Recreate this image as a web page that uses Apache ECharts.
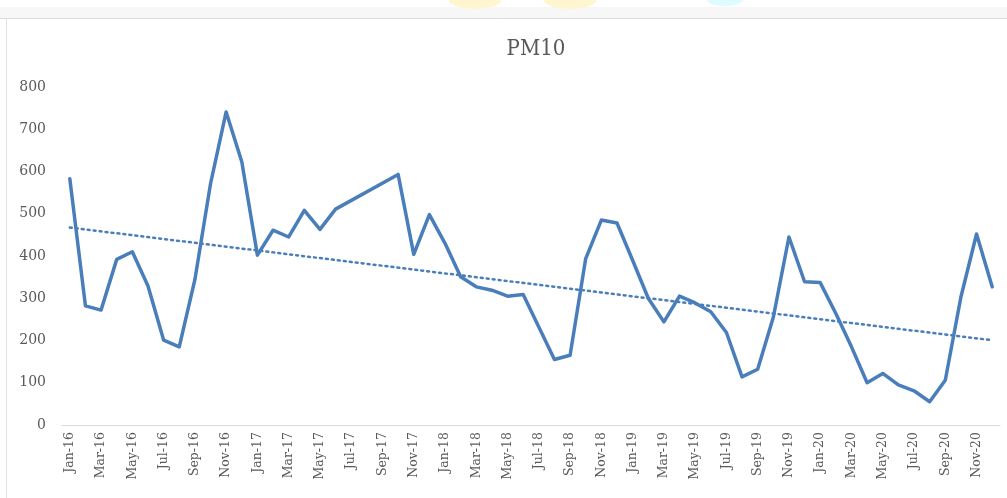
<!DOCTYPE html>
<html><head><meta charset="utf-8">
<script src="https://cdn.jsdelivr.net/npm/echarts@6/dist/echarts.min.js"></script>
<style>html,body{margin:0;padding:0;background:#fff}#c{width:1007px;height:498px}</style>
</head><body><div id="c"></div>
<script>
const monthNames = ['Jan','Feb','Mar','Apr','May','Jun','Jul','Aug','Sep','Oct','Nov','Dec'];
const years = ['16','17','18','19','20'];
const categories = [];
years.forEach(y => monthNames.forEach(m => categories.push(m + '-' + y)));
// Jul-17 .. Sep-17 appear to be missing (line drawn straight across them)
const pm10 = [
  583, 282, 272, 392, 410, 329, 201, 185, 344, 571, 741, 623,
  402, 461, 445, 508, 463, 511, null, null, null, 593, 404, 498,
  430, 351, 327, 319, 305, 309, 232, 155, 165, 394, 485, 478,
  390, 300, 244, 305, 289, 268, 219, 114, 132, 255, 445, 339,
  337, 264, 185, 100, 122, 95, 81, 55, 106, 303, 452, 327
];
const yTicks = [0, 800, 100];
const titleText = 'PM10';

// linear trendline (least squares) over the available data points
let n = 0, sx = 0, sy = 0, sxx = 0, sxy = 0;
pm10.forEach((v, i) => { if (v == null) return; n++; sx += i; sy += v; sxx += i * i; sxy += i * v; });
const slope = (n * sxy - sx * sy) / (n * sxx - sx * sx);
const icpt = (sy - slope * sx) / n;
const trend = pm10.map((v, i) => +(icpt + slope * i).toFixed(2));

const chart = echarts.init(document.getElementById('c'));
const labelColor = '#595959';
chart.setOption({
  animation: false,
  backgroundColor: '#ffffff',
  graphic: [
    { type: 'rect', shape: { x: 0, y: 7, width: 1007, height: 11 }, style: { fill: '#f7f7f7' }, silent: true },
    { type: 'ellipse', shape: { cx: 475, cy: 0, rx: 26, ry: 9 }, style: { fill: '#fff6cf' }, silent: true },
    { type: 'ellipse', shape: { cx: 570, cy: 0, rx: 26, ry: 9 }, style: { fill: '#fff6cf' }, silent: true },
    { type: 'ellipse', shape: { cx: 725, cy: 0, rx: 18, ry: 6 }, style: { fill: '#dffbff' }, silent: true },
    { type: 'line', shape: { x1: 0, y1: 18.5, x2: 1007, y2: 18.5 }, style: { stroke: '#dcdcdc', lineWidth: 1 }, silent: true },
    { type: 'line', shape: { x1: 6.5, y1: 18.5, x2: 6.5, y2: 498 }, style: { stroke: '#e3e3e3', lineWidth: 1 }, silent: true }
  ],
  title: {
    text: titleText,
    left: 531, top: 33, textAlign: 'center',
    textStyle: { fontFamily: 'DejaVu Serif Condensed, DejaVu Serif', fontSize: 22, fontWeight: 'normal', color: '#595959' }
  },
  grid: { left: 62, right: 7, top: 87, bottom: 73, containLabel: false },
  xAxis: {
    type: 'category',
    data: categories,
    boundaryGap: true,
    axisLine: { lineStyle: { color: '#d9d9d9', width: 1 } },
    axisTick: { interval: 1, length: 5, lineStyle: { color: '#d9d9d9' } },
    axisLabel: {
      interval: 1, rotate: 90, margin: 7,
      fontFamily: 'DejaVu Serif', fontSize: 12.5, color: labelColor
    },
    splitLine: { show: false }
  },
  yAxis: {
    type: 'value',
    min: yTicks[0], max: yTicks[1], interval: yTicks[2],
    axisLine: { show: false }, axisTick: { show: false },
    splitLine: { show: false },
    axisLabel: { margin: 16, fontFamily: 'DejaVu Serif', fontSize: 14, color: labelColor }
  },
  series: [
    {
      name: 'PM10', type: 'line', data: pm10,
      symbol: 'none', connectNulls: true,
      lineStyle: { color: '#4a7ebb', width: 3.5, join: 'round', cap: 'round' }
    },
    {
      name: 'Trend', type: 'line', data: trend,
      symbol: 'none',
      lineStyle: { color: '#4a7ebb', width: 2.5, type: [2, 4], cap: 'round' }
    }
  ]
});
</script></body></html>
